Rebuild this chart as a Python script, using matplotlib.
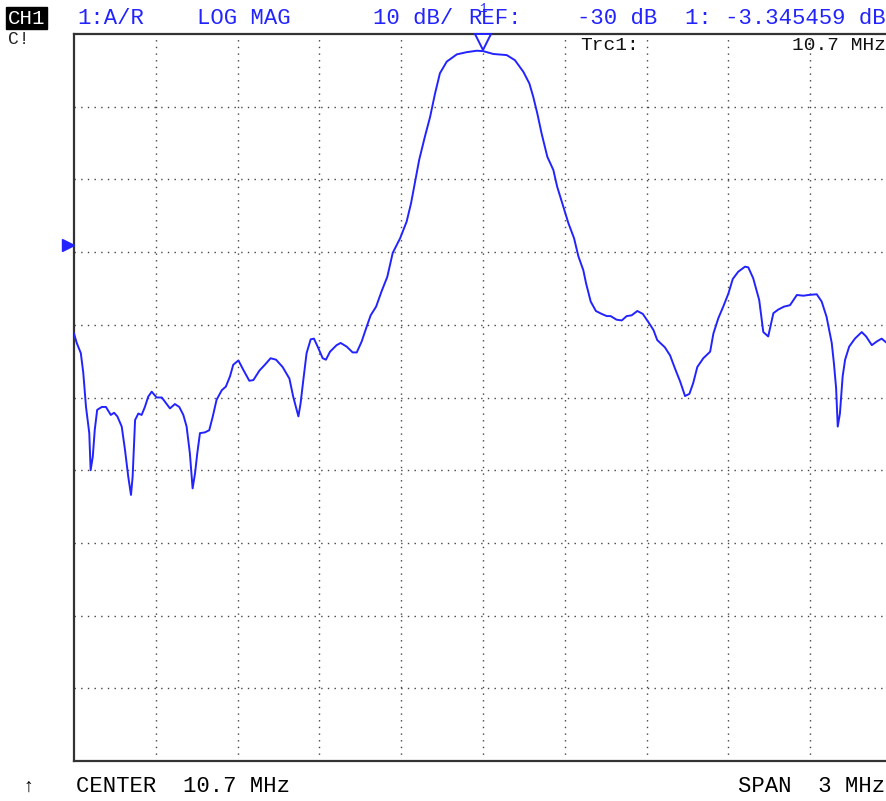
import matplotlib
matplotlib.use("Agg")
import matplotlib.pyplot as plt
import numpy as np

# trace data: frequency (MHz) vs magnitude (dB)
freq_mhz = [
    9.200, 9.210, 9.225, 9.234, 9.244, 9.256, 9.261, 9.269, 9.276, 9.285,
    9.302, 9.317, 9.335, 9.347, 9.359, 9.375, 9.387, 9.399, 9.409, 9.415,
    9.424, 9.436, 9.448, 9.460, 9.472, 9.485, 9.503, 9.522, 9.534, 9.552,
    9.570, 9.586, 9.601, 9.613, 9.625, 9.635, 9.644, 9.652, 9.662, 9.680,
    9.696, 9.709, 9.723, 9.742, 9.757, 9.772, 9.784, 9.803, 9.821, 9.843,
    9.858, 9.880, 9.900, 9.921, 9.941, 9.965, 9.990, 10.004, 10.023, 10.031,
    10.041, 10.053, 10.068, 10.080, 10.096, 10.112, 10.124, 10.139, 10.163, 10.178,
    10.200, 10.222, 10.237, 10.255, 10.273, 10.288, 10.308, 10.328, 10.349, 10.369,
    10.396, 10.420, 10.436, 10.451, 10.466, 10.487, 10.506, 10.524, 10.542, 10.567,
    10.604, 10.640, 10.677, 10.700, 10.738, 10.787, 10.817, 10.848, 10.870, 10.884,
    10.899, 10.915, 10.936, 10.958, 10.972, 10.995, 11.013, 11.034, 11.050, 11.068,
    11.078, 11.095, 11.114, 11.135, 11.154, 11.168, 11.190, 11.209, 11.227, 11.245,
    11.266, 11.286, 11.306, 11.325, 11.339, 11.367, 11.386, 11.404, 11.423, 11.441,
    11.457, 11.471, 11.486, 11.508, 11.533, 11.545, 11.563, 11.581, 11.600, 11.616,
    11.636, 11.661, 11.673, 11.691, 11.713, 11.728, 11.746, 11.765, 11.783, 11.804,
    11.826, 11.851, 11.875, 11.893, 11.924, 11.942, 11.960, 11.979, 11.987, 11.995,
    12.001, 12.009, 12.019, 12.028, 12.043, 12.064, 12.089, 12.105, 12.126, 12.144,
    12.162, 12.181, 12.200,
]
mag_db = [
    -42.2, -43.5, -44.9, -47.6, -52.3, -55.9, -61.0, -59.1, -55.5, -52.7,
    -52.3, -52.3, -53.4, -53.1, -53.6, -55.0, -58.2, -61.9, -64.4, -61.9,
    -54.1, -53.2, -53.4, -52.3, -50.9, -50.2, -51.0, -51.0, -51.6, -52.5,
    -51.9, -52.3, -53.4, -55.0, -58.7, -63.5, -61.4, -58.7, -55.9, -55.8,
    -55.5, -53.6, -51.3, -50.0, -49.5, -48.1, -46.5, -45.9, -47.2, -48.7,
    -48.6, -47.3, -46.5, -45.6, -45.8, -46.8, -48.4, -50.9, -53.6, -51.8,
    -48.6, -44.9, -43.0, -42.9, -44.2, -45.6, -45.8, -44.7, -43.8, -43.5,
    -44.0, -44.8, -44.8, -43.3, -41.3, -39.7, -38.5, -36.4, -34.4, -31.1,
    -29.1, -26.8, -24.3, -21.3, -18.3, -15.1, -12.4, -9.2, -6.4, -4.8,
    -3.8, -3.5, -3.3, -3.35, -3.75, -3.9, -4.6, -6.2, -7.8, -9.6,
    -11.9, -14.7, -17.9, -19.7, -22.0, -24.8, -27.0, -29.1, -31.6, -33.5,
    -35.3, -37.8, -39.1, -39.5, -39.8, -39.8, -40.3, -40.4, -39.8, -39.7,
    -39.1, -39.5, -40.6, -41.7, -43.1, -44.1, -45.2, -47.0, -48.8, -50.8,
    -50.5, -49.0, -46.8, -45.6, -44.7, -42.2, -40.1, -38.5, -36.7, -34.7,
    -33.7, -33.0, -33.1, -34.6, -37.6, -42.0, -42.6, -39.4, -38.9, -38.5,
    -38.3, -36.9, -37.0, -36.9, -36.8, -37.8, -39.9, -43.5, -46.3, -49.7,
    -55.0, -53.2, -48.1, -45.8, -44.0, -42.9, -42.0, -42.6, -43.8, -43.3,
    -42.9, -43.5, -44.0,
]

center_mhz = 10.7
span_mhz = 3.0
ref_db = -30
marker_freq = 10.7
top_db = -1.0
db_per_div = 10

W, H = 887, 801
blue = "#2323ff"
mono = ["Liberation Mono", "DejaVu Sans Mono"]

fig = plt.figure(figsize=(W / 100, H / 100), dpi=100)
fig.patch.set_facecolor("white")

# plot area in pixels: left 74, top 34, bottom 761, 10 divisions of ~81.8 px
ax = fig.add_axes([74 / W, 1 - 761 / H, 818 / W, 727 / H])
f0 = center_mhz - span_mhz / 2
f1 = center_mhz + span_mhz / 2
ax.set_xlim(f0, f1)
ax.set_ylim(top_db - 10 * db_per_div, top_db)

for k in range(1, 10):
    ax.axvline(f0 + k * span_mhz / 10, color="#444444", lw=1.0,
               linestyle=(0, (1, 3.8)), zorder=1)
    ax.axhline(top_db - k * db_per_div, color="#444444", lw=1.0,
               linestyle=(0, (1, 3.8)), zorder=1)

ax.plot(freq_mhz, mag_db, color=blue, lw=1.4, zorder=3)

ax.set_xticks([])
ax.set_yticks([])
for side in ["left", "bottom", "top"]:
    ax.spines[side].set_color("#333333")
    ax.spines[side].set_linewidth(1.6)
ax.spines["right"].set_visible(False)

# marker 1 (open triangle at top) and reference level arrow on the left
mk_db = mag_db[freq_mhz.index(marker_freq)]
ax.plot([marker_freq], [top_db - 1.1], marker="v", ms=12, mfc="white",
        mec=blue, mew=1.4, clip_on=False, zorder=5)
ax.plot([-0.007], [ref_db], marker=">", ms=9, color=blue, clip_on=False,
        transform=ax.get_yaxis_transform(), zorder=5)


def txt(x, y, s, **kw):
    fig.text(x / W, 1 - y / H, s, va="center", family=mono, **kw)


# header
txt(8, 18, "CH1", color="white", fontsize=15,
    bbox=dict(boxstyle="square,pad=0.08", fc="black", ec="black"))
txt(8, 39, "C!", color="#222222", fontsize=13)
txt(77, 19, "1:A/R", color=blue, fontsize=16)
txt(197, 19, "LOG MAG", color=blue, fontsize=16)
txt(373, 19, "%d dB/" % db_per_div, color=blue, fontsize=16)
txt(468, 19, "REF:", color=blue, fontsize=16)
txt(577, 19, "%d dB" % ref_db, color=blue, fontsize=16)
txt(886, 19, "1: %.6f dB" % -3.345459, color=blue, fontsize=16, ha="right")
txt(483, 9, "1", color=blue, fontsize=9, ha="center")
txt(580, 45, "Trc1:", color="#111111", fontsize=14)
txt(886, 45, "%.1f MHz" % marker_freq, color="#111111", fontsize=14, ha="right")

# footer
txt(22, 787, "\u2191", color="black", fontsize=14)
txt(76, 787, "CENTER  %.1f MHz" % center_mhz, color="black", fontsize=16)
txt(885, 787, "SPAN  %g MHz" % span_mhz, color="black", fontsize=16, ha="right")

fig.savefig("out.png", dpi=100, facecolor="white")
